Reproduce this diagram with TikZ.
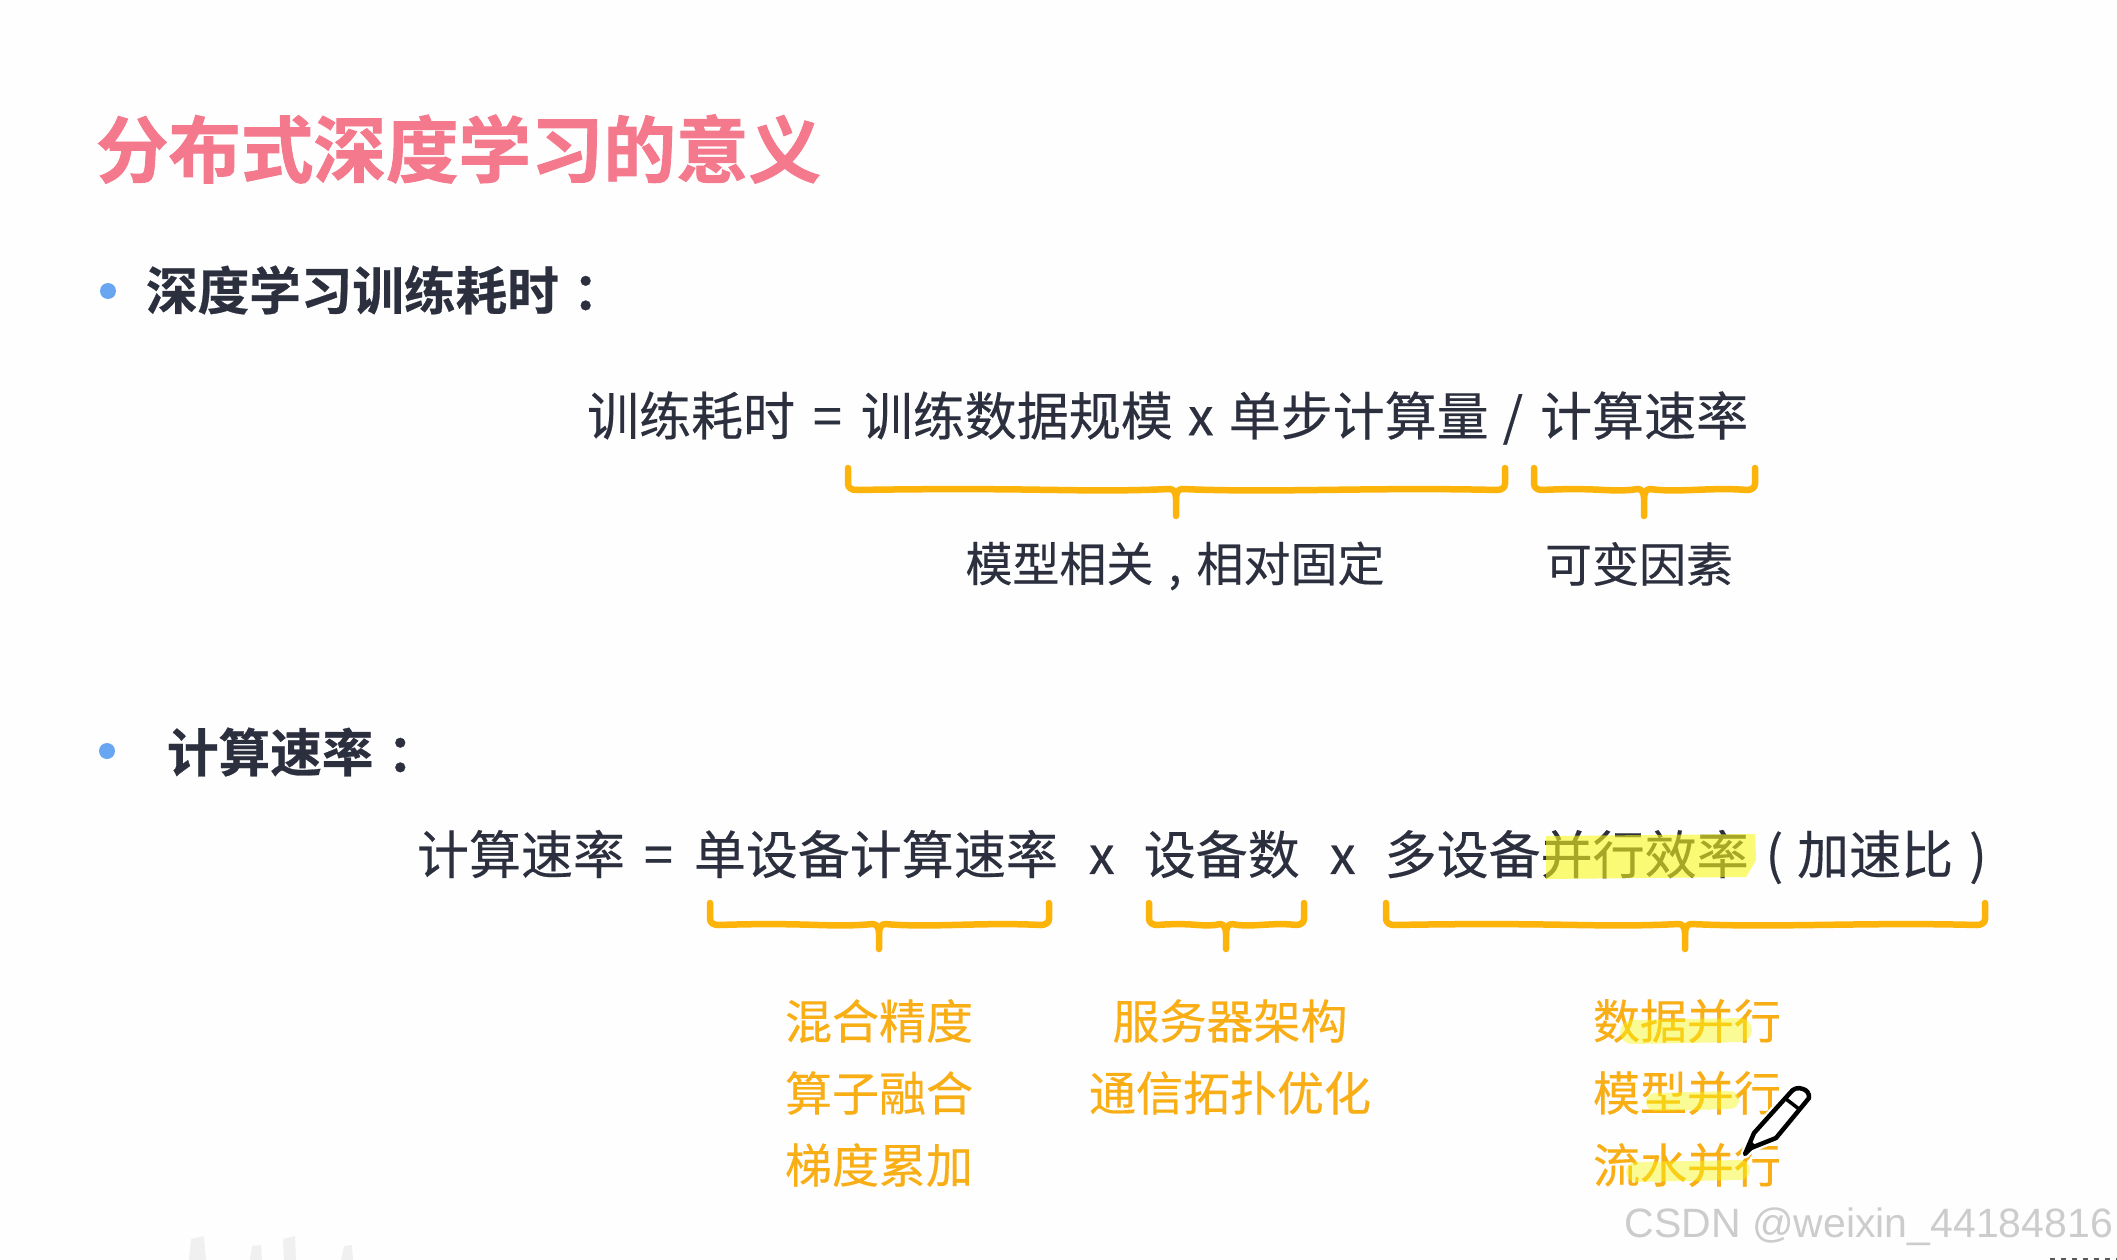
\documentclass[tikz,border=0pt]{standalone}
\usepackage{fontspec}
\setmainfont{Noto Sans CJK SC}[FakeBold=0.3]
\newfontfamily\heavyfont{Noto Sans CJK SC Bold}[FakeBold=1.2]
\newfontfamily\headfont{Noto Sans CJK SC Bold}[FakeBold=0.5]
\newfontfamily\wmfont{Liberation Sans}
\definecolor{inkc}{HTML}{2B2F3E}
\definecolor{titlec}{HTML}{F5798C}
\definecolor{bulletc}{HTML}{68A6F2}
\definecolor{bracec}{HTML}{FDB40A}
\definecolor{labelc}{HTML}{F8AE14}
\definecolor{hlc}{HTML}{F8F818}
\definecolor{wmc}{HTML}{CCCCCC}
\newcommand{\fs}[1]{\fontsize{#1}{#1}\selectfont}
\newcommand{\cbrace}[6]{% x1 x2 xc ytop ybar ytip
  \draw[curly] (#1,#4) -- (#1,#5-6) to[out=-90,in=180] (#1+8,#5)
    .. controls (#1+0.3*#2-0.3*#1,#5-3) and (#1+0.35*#2-0.35*#1,#5+3) .. (#3-6,#5-1)
    to[out=0,in=90] (#3,#5+8) -- (#3,#6);
  \draw[curly] (#3,#5+8) to[out=90,in=180] (#3+6,#5-1)
    .. controls (#3+0.3*#2-0.3*#3,#5+3) and (#3+0.6*#2-0.6*#3,#5-3) .. (#2-8,#5)
    to[out=0,in=-90] (#2,#5-6) -- (#2,#4);
}
\tikzset{
  every node/.style={inner sep=0pt,outer sep=0pt},
  titletext/.style={anchor=west,text=titlec,font=\heavyfont\fs{72.5}},
  headtext/.style={anchor=west,text=inkc,font=\headfont\fs{51.6}},
  formula/.style={anchor=west,text=inkc,font=\fs{52}},
  subtext/.style={anchor=center,text=inkc,font=\fs{47}},
  ortext/.style={anchor=center,text=labelc,font=\fs{47}},
  dotb/.style={circle,fill=bulletc,minimum size=16pt},
  curly/.style={draw=bracec,line width=6.5pt,line cap=round,line join=round},
  hl/.style={draw=none,fill=hlc,opacity=0.6},
  hlstroke/.style={draw=hlc,line cap=round,opacity=0.45},
  wm/.style={anchor=east,text=wmc,font=\wmfont\fs{41}},
  penshape/.style={line join=round},
}
\begin{document}
\begin{tikzpicture}[x=1pt,y=-1pt]
\path[fill=white!99.5!black] (0,0) rectangle (2117,1260);
\useasboundingbox (0,0) rectangle (2117,1260);

% faint remains at the lower left
\fill[black!6] (189,1260) -- (191,1239) -- (204,1236) -- (206,1260) -- cycle;
\fill[black!6] (250,1260) -- (252,1246) -- (261,1245) -- (262,1260) -- cycle;
\fill[black!6] (284,1260) -- (283,1239) -- (295,1236) -- (296,1260) -- cycle;
\fill[black!6] (341,1260) -- (344,1246) -- (352,1245) -- (353,1260) -- cycle;

\node[titletext] (title) at (96,149) {分布式深度学习的意义};

\node[dotb] (b1) at (108,291) {};
\node[headtext] (h1) at (146,290) {深度学习训练耗时\hspace{14pt}：};

\node[formula] (f1) at (587,418) {训练耗时\hspace{18pt}=\hspace{19pt}训练数据规模\hspace{15pt}x\hspace{15pt}单步计算量\hspace{14pt}/\hspace{17pt}计算速率};

\cbrace{848}{1505}{1176}{468}{490}{516}
\cbrace{1534}{1755}{1644}{468}{490}{516}

\node[subtext] (m1) at (1175,566) {模型相关\hspace{15pt},\hspace{15pt}相对固定};
\node[subtext] (m2) at (1639,564) {可变因素};

\node[dotb] (b2) at (107,751) {};
\node[headtext] (h2) at (167,752) {计算速率\hspace{14pt}：};

\node[formula] (f2) at (417,857) {计算速率\hspace{19pt}=\hspace{21pt}单设备计算速率\hspace{31pt}x\hspace{29pt}设备数\hspace{30pt}x\hspace{29pt}多设备并行效率\hspace{17pt}(\hspace{14pt}加速比\hspace{16pt})};

\cbrace{710}{1049}{879}{903}{925}{949}
\cbrace{1149}{1304}{1226}{903}{925}{949}
\cbrace{1386}{1985}{1685}{903}{925}{949}

\node[ortext] (a1) at (879,1021) {混合精度};
\node[ortext] (a2) at (879,1093) {算子融合};
\node[ortext] (a3) at (879,1165) {梯度累加};
\node[ortext] (c1) at (1230,1021) {服务器架构};
\node[ortext] (c2) at (1230,1093) {通信拓扑优化};
\node[ortext] (d1) at (1687,1021) {数据并行};
\node[ortext] (d2) at (1687,1093) {模型并行};
\node[ortext] (d3) at (1687,1165) {流水并行};

% highlighter strokes over the text
\fill[hl] (1546,836) -- (1755,834) -- (1756,860) -- (1746,877) -- (1546,879) -- cycle;
\draw[hlstroke,line width=24pt] (1632,1032) -- (1740,1030);
\draw[hlstroke,line width=18pt] (1655,1102) -- (1730,1100);
\draw[hlstroke,line width=20pt] (1636,1172) -- (1740,1170);

% pen cursor
\path[penshape,draw=white,line width=9pt,fill=white]
  (1745,1154) -- (1754,1133) -- (1790,1093) to[bend left=40] (1803,1089) to[bend left=40] (1809,1098) -- (1776,1138) -- (1751,1148) -- cycle;
\path[penshape,draw=black,line width=4.5pt,fill=white]
  (1745,1154) -- (1754,1133) -- (1790,1093) to[bend left=40] (1803,1089) to[bend left=40] (1809,1098) -- (1776,1138) -- (1751,1148) -- cycle;
\draw[black,line width=3.5pt] (1786,1099) -- (1799,1109);
\fill[black] (1745,1154) -- (1750,1140) -- (1757,1147) -- cycle;

\node[wm] (wm) at (2113,1227) {CSDN @weixin\_44184816};

% tops of clipped letters at the lower right edge
\draw[black!65,line width=3pt,dash pattern=on 5pt off 6pt] (2050,1259) -- (2117,1259);
\end{tikzpicture}
\end{document}
